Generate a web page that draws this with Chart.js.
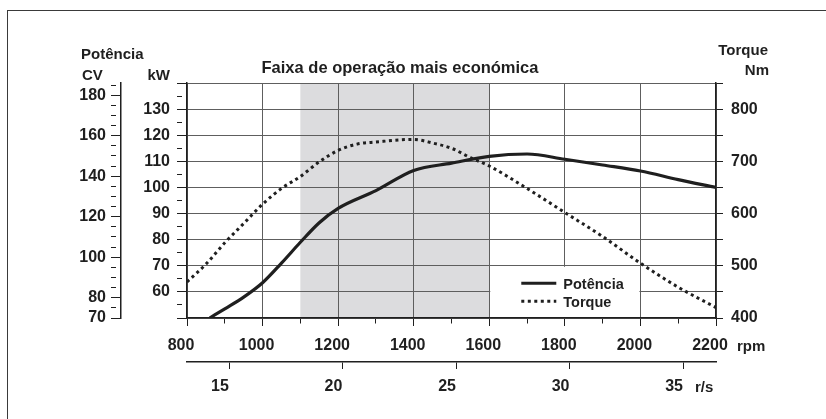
<!DOCTYPE html>
<html>
<head>
<meta charset="utf-8">
<script src="https://cdn.jsdelivr.net/npm/chart.js@4"></script>
<style>
  html, body { margin: 0; padding: 0; background: #fff; }
  #wrap { width: 826px; height: 419px; }
</style>
</head>
<body>
<div id="wrap"><canvas id="motorChart" width="826" height="419"></canvas></div>
<script>
// Curvas do motor: potência (kW) e torque (Nm) em função da rotação
const powerRpm  = [860, 900, 950, 1000, 1050, 1100, 1150, 1200, 1300, 1400, 1500, 1600, 1700, 1800, 1900, 2000, 2100, 2200];
const powerKw   = [50, 53.5, 58, 63.5, 71, 79, 86.5, 92, 98.8, 106.5, 109.3, 111.9, 112.8, 110.8, 108.6, 106.3, 103, 100];
const torqueRpm = [800, 850, 900, 950, 1000, 1050, 1100, 1150, 1200, 1250, 1300, 1400, 1450, 1500, 1550, 1600, 1700, 1800, 1900, 2000, 2100, 2200];
const torqueNm  = [469, 503, 544, 581, 618, 648, 671, 699, 721, 733, 737, 742, 735, 725, 707, 691, 648, 602, 556, 505, 459, 420];

// eixos
const rpmLabels = [800, 1000, 1200, 1400, 1600, 1800, 2000, 2200];
const rsLabels  = [15, 20, 25, 30, 35];
const kwLabels  = [60, 70, 80, 90, 100, 110, 120, 130];
const cvLabels  = [70, 80, 100, 120, 140, 160, 180];
const nmLabels  = [400, 500, 600, 700, 800];
const economyBand = [1100, 1600];
const legendBox = { rpm: [1600, 2000], nm: [500, 400] };

const FONT = "'Liberation Sans', Arial, Helvetica, sans-serif";
const INK = '#1f1f1f';
const GRID = '#5e5e5e';
const tickFont = { family: FONT, size: 16, weight: 'bold' };

function steps(from, to, step) {
  const out = [];
  for (let v = from; v <= to + 1e-9; v += step) out.push({ value: v });
  return out;
}
const shortTick = [5, 40];

const backdrop = {
  id: 'backdrop',
  beforeDraw(chart) {
    const { ctx, chartArea: a, scales: { x } } = chart;
    ctx.save();
    ctx.strokeStyle = '#3a3a3a';
    ctx.lineWidth = 1;
    ctx.strokeRect(7.5, 10.5, 900, 500);
    const x0 = x.getPixelForValue(economyBand[0]);
    const x1 = x.getPixelForValue(economyBand[1]);
    ctx.fillStyle = '#dcdcde';
    ctx.fillRect(x0, a.top, x1 - x0, a.bottom - a.top);
    ctx.restore();
  }
};

const legendPanel = {
  id: 'legendPanel',
  beforeDatasetsDraw(chart) {
    const { ctx, scales: { x, y } } = chart;
    const bx0 = x.getPixelForValue(legendBox.rpm[0]);
    const bx1 = x.getPixelForValue(legendBox.rpm[1]);
    const by0 = y.getPixelForValue(legendBox.nm[0]);
    const by1 = y.getPixelForValue(legendBox.nm[1]);
    ctx.save();
    ctx.fillStyle = '#fff';
    ctx.fillRect(bx0 + 1, by0 + 1, bx1 - bx0 - 2, by1 - by0 - 2);

    ctx.strokeStyle = INK;
    ctx.lineWidth = 3;
    ctx.beginPath();
    ctx.moveTo(bx0 + 32, by0 + 17.5);
    ctx.lineTo(bx0 + 67, by0 + 17.5);
    ctx.stroke();
    ctx.setLineDash([3, 3.5]);
    ctx.beginPath();
    ctx.moveTo(bx0 + 32, by0 + 35.5);
    ctx.lineTo(bx0 + 67, by0 + 35.5);
    ctx.stroke();

    ctx.fillStyle = INK;
    ctx.font = `bold 14.5px ${FONT}`;
    ctx.textAlign = 'left';
    ctx.textBaseline = 'alphabetic';
    ctx.fillText('Potência', bx0 + 74, by0 + 23);
    ctx.fillText('Torque', bx0 + 74, by0 + 41.5);
    ctx.restore();
  }
};

const captions = {
  id: 'captions',
  afterDraw(chart) {
    const { ctx } = chart;
    ctx.save();
    ctx.fillStyle = INK;
    ctx.textBaseline = 'alphabetic';
    ctx.font = `bold 15px ${FONT}`;
    ctx.textAlign = 'left';
    ctx.fillText('Potência', 81, 58.5);
    ctx.fillText('CV', 82, 79.5);
    ctx.fillText('rpm', 737, 350.5);
    ctx.fillText('r/s', 695, 391.5);
    ctx.textAlign = 'right';
    ctx.fillText('kW', 170, 79.5);
    ctx.fillText('Torque', 768, 55);
    ctx.fillText('Nm', 769, 75);
    ctx.font = `bold 16.5px ${FONT}`;
    ctx.textAlign = 'center';
    ctx.fillText('Faixa de operação mais económica', 400, 72.5);
    ctx.restore();
  }
};

new Chart(document.getElementById('motorChart'), {
  type: 'line',
  data: {
    datasets: [
      {
        label: 'Potência',
        data: powerRpm.map((r, i) => ({ x: r, y: powerKw[i] })),
        yAxisID: 'kw',
        borderColor: INK,
        borderWidth: 3.2,
        pointRadius: 0,
        cubicInterpolationMode: 'monotone'
      },
      {
        label: 'Torque',
        data: torqueRpm.map((r, i) => ({ x: r, y: torqueNm[i] })),
        yAxisID: 'y',
        borderColor: INK,
        borderWidth: 3,
        borderDash: [3, 3.5],
        borderCapStyle: 'butt',
        pointRadius: 0,
        cubicInterpolationMode: 'monotone'
      }
    ]
  },
  options: {
    responsive: false,
    animation: false,
    events: [],
    layout: { padding: { top: 83, left: 0, right: 0, bottom: 21 } },
    plugins: { legend: { display: false }, tooltip: { enabled: false } },
    scales: {
      x: {
        type: 'linear', position: 'bottom', weight: 0,
        min: 800, max: 2200,
        afterBuildTicks: s => { s.ticks = steps(800, 2200, 100); },
        afterFit: s => { s.height = 44; },
        grid: {
          color: c => rpmLabels.includes(c.tick.value) ? GRID : 'rgba(0,0,0,0)',
          tickColor: INK, tickLength: 8,
          tickBorderDash: c => rpmLabels.includes(c.tick.value) ? [] : shortTick
        },
        border: { color: INK, width: 1.5 },
        ticks: {
          autoSkip: false, maxRotation: 0, padding: 10, labelOffset: -6,
          font: tickFont, color: INK,
          callback: v => rpmLabels.includes(v) ? String(v) : ''
        }
      },
      rs: {
        type: 'linear', position: 'bottom', weight: 1,
        min: 13.15, max: 36.45,
        afterBuildTicks: s => { s.ticks = rsLabels.map(v => ({ value: v })); },
        afterFit: s => { s.height = 36; },
        grid: { drawOnChartArea: false, color: INK, tickLength: 7 },
        border: { color: INK, width: 1.5 },
        ticks: {
          autoSkip: false, maxRotation: 0, padding: 8, labelOffset: -9,
          font: tickFont, color: INK,
          callback: v => String(v)
        }
      },
      cv: {
        type: 'linear', position: 'left', weight: 1,
        min: 70, max: 186,
        afterBuildTicks: s => { s.ticks = steps(70, 185, 5); },
        afterFit: s => { s.width = 121; },
        grid: {
          drawOnChartArea: false, color: INK, tickLength: 10,
          tickBorderDash: c => cvLabels.includes(c.tick.value) ? [] : shortTick
        },
        border: { color: INK, width: 1.5 },
        ticks: {
          autoSkip: false, padding: 5, font: tickFont, color: INK,
          callback: v => cvLabels.includes(v) ? String(v) : ''
        }
      },
      kw: {
        type: 'linear', position: 'left', weight: 0,
        min: 50, max: 140,
        afterBuildTicks: s => { s.ticks = steps(50, 140, 5); },
        afterFit: s => { s.width = 66; },
        grid: {
          drawOnChartArea: false, color: INK, tickLength: 10,
          tickBorderDash: c => c.tick.value % 10 === 0 ? [] : shortTick
        },
        border: { color: INK, width: 1.5 },
        ticks: {
          autoSkip: false, padding: 7, font: tickFont, color: INK,
          callback: v => kwLabels.includes(v) ? String(v) : ''
        }
      },
      y: {
        type: 'linear', position: 'right',
        min: 400, max: 850,
        afterBuildTicks: s => { s.ticks = steps(400, 850, 50); },
        afterFit: s => { s.width = 110; },
        grid: { color: GRID, tickColor: INK, tickLength: 7 },
        border: { color: INK, width: 1.5 },
        ticks: {
          autoSkip: false, padding: 8, font: tickFont, color: INK,
          callback: v => nmLabels.includes(v) ? String(v) : ''
        }
      }
    }
  },
  plugins: [backdrop, legendPanel, captions]
});
</script>
</body>
</html>
